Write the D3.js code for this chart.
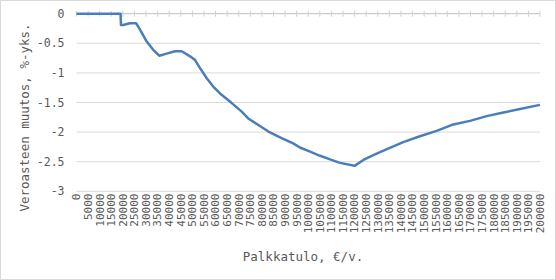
<!DOCTYPE html>
<html>
<head>
<meta charset="utf-8">
<script src="https://cdn.jsdelivr.net/npm/d3@7"></script>
<style>
    body { margin: 0; background: #fff; }
    text { font-family: "DejaVu Sans Mono", monospace; fill: #595959; }
</style>
</head>
<body>
<div id="chart"></div>
<script>
// palkkatulo (€/v.) and veroasteen muutos (%-yks.)
const incomes = [0, 19000, 19200, 20200, 23000, 25700, 27400, 30300, 33100, 35700,
    38900, 42500, 45400, 49000, 51100, 53300, 56200, 59000, 62600, 67000,
    71300, 74100, 78500, 82800, 88500, 93500, 96400, 100800, 105100, 109400,
    113700, 120000, 123800, 128800, 134200, 141000, 148200, 155400, 162600, 169800,
    177000, 184200, 191400, 200000];
const changes = [0, 0, -0.19, -0.19, -0.16, -0.16, -0.27, -0.47, -0.61, -0.71,
    -0.675, -0.635, -0.635, -0.72, -0.78, -0.92, -1.09, -1.23, -1.37, -1.51,
    -1.655, -1.77, -1.88, -1.99, -2.10, -2.19, -2.26, -2.33, -2.40, -2.46,
    -2.52, -2.57, -2.47, -2.375, -2.285, -2.17, -2.07, -1.98, -1.87, -1.81,
    -1.73, -1.67, -1.61, -1.54];
const xTicks = d3.range(0, 200001, 5000);
const yTicks = [0, -0.5, -1, -1.5, -2, -2.5, -3];
const yTickLabels = ['0', '-0.5', '-1', '-1.5', '-2', '-2.5', '-3'];

const width = 556, height = 280;

const svg = d3.select('#chart')
    .append('svg')
    .attr('width', width)
    .attr('height', height);

// chart border
svg.append('rect')
    .attr('x', 0.5).attr('y', 0.5)
    .attr('width', width - 1).attr('height', height - 1)
    .attr('fill', '#fff')
    .attr('stroke', '#d9d9d9');

const x = d3.scaleLinear().domain([0, 200000]).range([76.5, 540]);
const y = d3.scaleLinear().domain([-3, 0]).range([191.3, 13.7]);

// gridlines
svg.append('g')
    .selectAll('line')
    .data(yTicks.filter(d => d !== 0))
    .enter()
    .append('line')
    .attr('x1', x(0)).attr('x2', x(200000))
    .attr('y1', d => y(d)).attr('y2', d => y(d))
    .attr('stroke', '#d9d9d9')
    .attr('stroke-width', 1);

// y labels
svg.append('g')
    .selectAll('text')
    .data(yTicks)
    .enter()
    .append('text')
    .attr('x', 64.5)
    .attr('y', d => y(d))
    .attr('dy', '0.35em')
    .attr('text-anchor', 'end')
    .style('font-size', '11.5px')
    .text((d, i) => yTickLabels[i]);

// category axis at zero
svg.append('line')
    .attr('x1', x(0)).attr('x2', x(200000))
    .attr('y1', y(0)).attr('y2', y(0))
    .attr('stroke', '#bfbfbf');

svg.append('g')
    .selectAll('line')
    .data(xTicks)
    .enter()
    .append('line')
    .attr('x1', d => x(d)).attr('x2', d => x(d))
    .attr('y1', y(0) - 3).attr('y2', y(0) + 3)
    .attr('stroke', '#d0d0d0');

// x labels, rotated
svg.append('g')
    .selectAll('text')
    .data(xTicks)
    .enter()
    .append('text')
    .attr('transform', d => `translate(${x(d)},193.5) rotate(-90)`)
    .attr('dy', '0.35em')
    .attr('text-anchor', 'end')
    .style('font-size', '11px')
    .text(d => d);

// line
const line = d3.line()
    .x((d, i) => x(incomes[i]))
    .y(d => y(d));

svg.append('path')
    .datum(changes)
    .attr('d', line)
    .attr('fill', 'none')
    .attr('stroke', '#4a7ebb')
    .attr('stroke-width', 2.5)
    .attr('stroke-linejoin', 'round');

// axis titles
svg.append('text')
    .attr('x', 303)
    .attr('y', 257)
    .attr('dy', '0.35em')
    .attr('text-anchor', 'middle')
    .style('font-size', '12.5px')
    .text('Palkkatulo, €/v.');

svg.append('text')
    .attr('transform', 'translate(25,117.5) rotate(-90)')
    .attr('dy', '0.35em')
    .attr('text-anchor', 'middle')
    .style('font-size', '12.5px')
    .text('Veroasteen muutos, %-yks.');
</script>
</body>
</html>
